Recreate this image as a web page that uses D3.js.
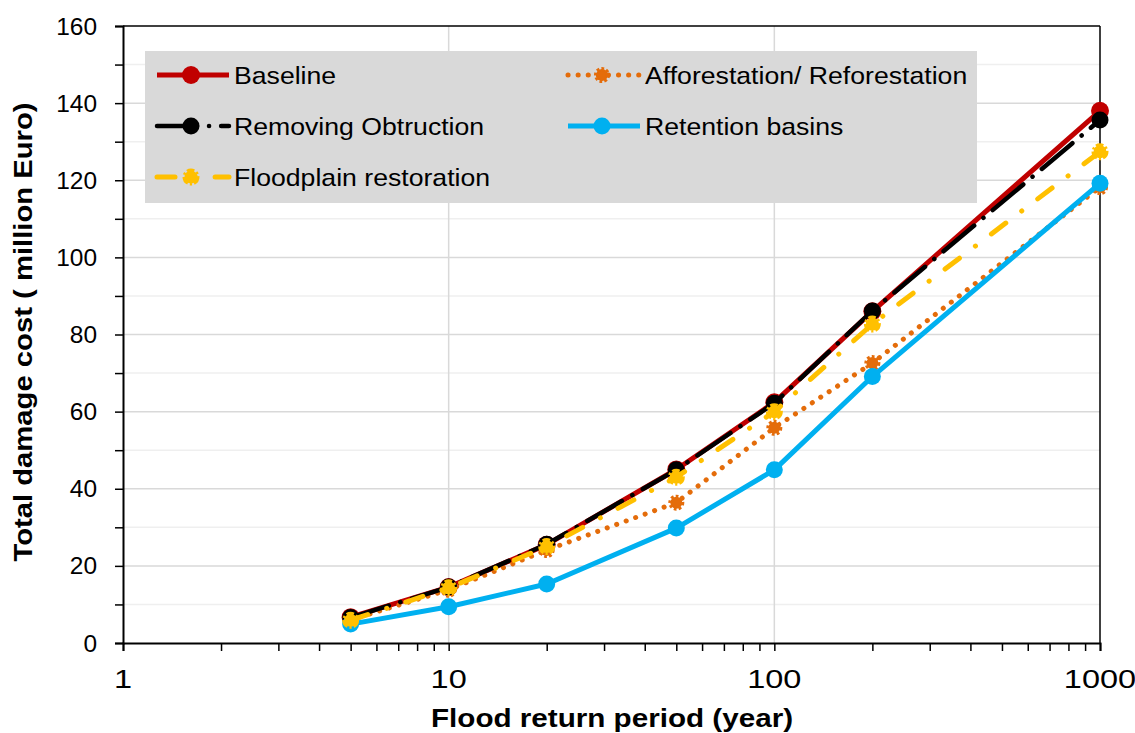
<!DOCTYPE html>
<html><head><meta charset="utf-8">
<script src="https://cdn.jsdelivr.net/npm/d3@7"></script>
<style>body{margin:0;background:#fff;} text{font-family:"Liberation Sans",Arial,sans-serif;}</style>
</head><body>
<svg id="chart" width="1135" height="733"></svg>
<script>
const periods = [5, 10, 20, 50, 100, 200, 1000];
const baseline = [6.7, 14.5, 25.5, 45.0, 62.4, 86.0, 138.0];
const removing = [6.6, 14.5, 25.6, 44.9, 62.2, 86.1, 135.6];
const floodplain = [5.9, 14.3, 25.0, 43.0, 60.0, 82.7, 127.4];
const afforestation = [6.0, 13.8, 24.1, 36.4, 55.8, 72.6, 118.2];
const retention = [4.9, 9.4, 15.3, 29.8, 44.9, 69.1, 119.2];
const xTicks = [1, 10, 100, 1000];
const yTicks = [0, 20, 40, 60, 80, 100, 120, 140, 160];

const series = [
  {name: "Baseline", values: baseline, color: "#c00000", dash: null, width: 5, r: 9, mdash: null, col: 0, row: 0},
  {name: "Afforestation/ Reforestation", values: afforestation, color: "#e46c0a", dash: "0.1,10", width: 5, r: 6, mdash: "2.5,2", col: 1, row: 0},
  {name: "Removing Obtruction", values: removing, color: "#000000", dash: "40,12,0.1,12", width: 4.5, r: 8.5, mdash: null, col: 0, row: 1},
  {name: "Retention basins", values: retention, color: "#00b0f0", dash: null, width: 5, r: 8.5, mdash: null, col: 1, row: 1},
  {name: "Floodplain restoration", values: floodplain, color: "#ffc000", dash: "18,20,0.1,20", width: 5, r: 6.5, mdash: "7,2,2,2", col: 0, row: 2}
];

const svg = d3.select("#chart");
const L = 123, R = 1100, T = 26, B = 643;
const x = d3.scaleLog().domain([1, 1000]).range([L, R]);
const y = d3.scaleLinear().domain([0, 160]).range([B, T]);

function stext(parent, tx, ty, str, size, sx, anchor, bold, rot) {
  const t = parent.append("text")
    .attr("transform", `translate(${tx},${ty})${rot ? " rotate(" + rot + ")" : ""} scale(${sx},1)`)
    .attr("font-size", size).attr("fill", "#000").attr("text-anchor", anchor || "start").text(str);
  if (bold) t.attr("font-weight", "bold");
  return t;
}

// gridlines
const g = svg.append("g");
d3.range(10, 160, 20).forEach(v => g.append("line").attr("x1", L).attr("x2", R).attr("y1", y(v)).attr("y2", y(v)).attr("stroke", "#efefef").attr("stroke-width", 1.5));
yTicks.filter(v => v > 0 && v < 160).forEach(v => g.append("line").attr("x1", L).attr("x2", R).attr("y1", y(v)).attr("y2", y(v)).attr("stroke", "#d9d9d9").attr("stroke-width", 1.5));
[10, 100].forEach(v => g.append("line").attr("x1", x(v)).attr("x2", x(v)).attr("y1", T).attr("y2", B).attr("stroke", "#d9d9d9").attr("stroke-width", 1.5));

// frame top & right
svg.append("line").attr("x1", L).attr("x2", R).attr("y1", T).attr("y2", T).attr("stroke", "#000").attr("stroke-width", 1.5);
svg.append("line").attr("x1", R).attr("x2", R).attr("y1", T).attr("y2", B).attr("stroke", "#000").attr("stroke-width", 1.5);

// axes
const yAxis = d3.axisLeft(y).tickValues(d3.range(0, 161, 10)).tickSize(8).tickFormat("");
const ya = svg.append("g").attr("transform", `translate(${L},0)`).call(yAxis);
ya.select(".domain").attr("stroke", "#000").attr("stroke-width", 2);
ya.selectAll(".tick line").attr("stroke", "#000").attr("stroke-width", 1.5);
yTicks.forEach(v => stext(svg, 97, y(v) + 8.5, String(v), 24, 1.02, "end"));

const minor = [];
[1, 10, 100].forEach(d => { for (let k = 1; k <= 9; k++) minor.push(d * k); });
minor.push(1000);
const xAxis = d3.axisBottom(x).tickValues(minor).tickSize(8).tickFormat("");
const xa = svg.append("g").attr("transform", `translate(0,${B})`).call(xAxis);
xa.select(".domain").attr("stroke", "#000").attr("stroke-width", 2);
xa.selectAll(".tick line").attr("stroke", "#000").attr("stroke-width", 1.5);
xTicks.forEach(v => stext(svg, x(v), 688, String(v), 26, 1.25, "middle"));

// axis titles
stext(svg, 612, 727, "Flood return period (year)", 26, 1.14, "middle", true);
stext(svg, 32, 332, "Total damage cost ( million Euro)", 25, 1.17, "middle", true, -90);

// series
const line = d3.line().x(d => x(d[0])).y(d => y(d[1]));
series.forEach(s => {
  const pts = periods.map((p, i) => [p, s.values[i]]);
  const gs = svg.append("g");
  gs.append("path").attr("d", line(pts)).attr("fill", "none").attr("stroke", s.color)
    .attr("stroke-width", s.width).attr("stroke-linecap", s.dash ? "round" : "butt").attr("stroke-linejoin", "round")
    .attr("stroke-dasharray", s.dash);
  gs.selectAll("circle").data(pts).join("circle").attr("cx", d => x(d[0])).attr("cy", d => y(d[1]))
    .attr("r", s.r).attr("fill", s.color)
    .attr("stroke", s.mdash ? s.color : "none").attr("stroke-width", s.mdash ? 4 : 0).attr("stroke-dasharray", s.mdash);
});

// legend
const lg = svg.append("g");
lg.append("rect").attr("x", 145).attr("y", 51).attr("width", 832).attr("height", 152).attr("fill", "#d9d9d9");
const colX = [157, 568], rowY = [75, 126, 177];
series.forEach(s => {
  const x0 = colX[s.col], yy = rowY[s.row];
  lg.append("line").attr("x1", x0).attr("x2", x0 + 72).attr("y1", yy).attr("y2", yy).attr("stroke", s.color)
    .attr("stroke-width", s.width).attr("stroke-linecap", s.dash ? "round" : "butt").attr("stroke-dasharray", s.dash);
  lg.append("circle").attr("cx", x0 + 34).attr("cy", yy).attr("r", s.r).attr("fill", s.color)
    .attr("stroke", s.mdash ? s.color : "none").attr("stroke-width", s.mdash ? 4 : 0).attr("stroke-dasharray", s.mdash);
  stext(lg, x0 + 77, yy + 8.5, s.name, 24, 1.11, "start");
});
</script>
</body></html>
